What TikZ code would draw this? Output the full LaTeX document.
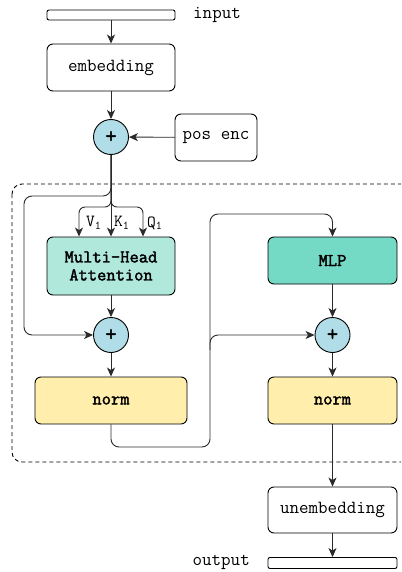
\documentclass[tikz,border=0pt]{standalone}
\usepackage{fontspec}
\setmonofont{Latin Modern Mono}
\newfontfamily\monobold{Latin Modern Mono}[FakeBold=2]
\usetikzlibrary{arrows.meta}

\definecolor{addfill}{HTML}{B1DDE8}
\definecolor{attfill}{HTML}{B0E8DC}
\definecolor{mlpfill}{HTML}{74D9C5}
\definecolor{normfill}{HTML}{FFEEAC}
\definecolor{wire}{HTML}{2A2A2A}

\tikzset{
  box/.style={draw, line width=0.9pt, rounded corners=6pt, inner sep=0pt,
    minimum width=128pt, minimum height=47pt, align=center},
  bar/.style={draw, line width=0.9pt, rounded corners=2pt, inner sep=0pt,
    minimum width=128pt, minimum height=10pt},
  adder/.style={draw, line width=0.9pt, circle, fill=addfill, inner sep=0pt,
    minimum size=35pt, font=\monobold\fontsize{22}{22}\selectfont},
  arr/.style={draw=wire, line width=0.9pt,
    -{Stealth[length=9pt,width=8pt,inset=2.5pt]}},
  qkv/.style={anchor=west, inner sep=1pt, font=\ttfamily\fontsize{17}{17}\selectfont},
  heavy/.style={font=\monobold\fontsize{18}{18}\selectfont},
}

\begin{document}
\begin{tikzpicture}[x=1pt, y=-1pt, font=\ttfamily\fontsize{18.5}{18}\selectfont]
\useasboundingbox (0,0) rectangle (401,572);
\clip (0,0) rectangle (401,572);

% transformer block frame
\draw[line width=0.9pt, dash pattern=on 4pt off 3pt, rounded corners=10pt]
  (12,184) rectangle (420,462);

% input side
\node[bar] (inbar) at (111,15) {};
\node[anchor=west, inner sep=0pt] (inlabel) at (193,15) {input};
\node[box] (emb) at (111,67.5) {embedding};
\node[adder] (plus1) at (111,137) {+};
\node[box, minimum width=82pt] (posenc) at (216,137.5) {pos enc};

% attention sub-layer
\node[box, heavy, fill=attfill, minimum height=58pt] (mha) at (111,266)
  {Multi-Head\\Attention};
\node[adder] (plus2) at (111,335) {+};
\node[box, heavy, fill=normfill, minimum width=152pt] (norm1) at (111,400.5) {norm};

% MLP sub-layer
\node[box, heavy, fill=mlpfill, minimum width=129pt] (mlp) at (332.5,260.5) {MLP};
\node[adder] (plus3) at (332.5,335) {+};
\node[box, heavy, fill=normfill, minimum width=129pt] (norm2) at (332.5,400.5) {norm};

% output side
\node[box, minimum width=129pt, minimum height=46pt] (unemb) at (332.5,510) {unembedding};
\node[bar, minimum width=129pt, minimum height=11pt] (outbar) at (332.5,563) {};
\node[anchor=east, inner sep=0pt] (outlabel) at (250,562) {output};

% value / key / query labels
\node[qkv] (vlab) at (85,223) {V\textsubscript{1}};
\node[qkv] (klab) at (113,223) {K\textsubscript{1}};
\node[qkv] (qlab) at (146,223) {Q\textsubscript{1}};

% routing points
\coordinate (loop) at (111,196);
\coordinate (fork) at (111,207);
\coordinate (rail) at (24,335);
\coordinate (r2) at (210,447);
\coordinate (r3) at (210,214);
\coordinate (r5) at (210,350);

% connectors
\draw[arr] (inbar) -- (emb);
\draw[arr] (emb) -- (plus1);
\draw[arr] (posenc) -- (plus1);

\draw[arr, rounded corners=6pt] (plus1.south) -- (fork) -| ([xshift=-32pt]mha.north);
\draw[arr, rounded corners=6pt] (plus1.south) -- (fork) -| ([xshift=32pt]mha.north);
\draw[arr] (plus1.south) -- (mha.north);
\draw[arr, rounded corners=8pt] (plus1.south) -- (loop) -| (rail) -- (plus2.west);

\draw[arr] (mha) -- (plus2);
\draw[arr] (plus2) -- (norm1);

\draw[arr, rounded corners=8pt] (norm1.south) |- (r2) -- (r3) -| (mlp.north);
\draw[arr, rounded corners=8pt] (r5) |- (plus3.west);

\draw[arr] (mlp) -- (plus3);
\draw[arr] (plus3) -- (norm2);
\draw[arr] (norm2) -- (unemb);
\draw[arr] (unemb) -- (outbar);
\end{tikzpicture}
\end{document}
